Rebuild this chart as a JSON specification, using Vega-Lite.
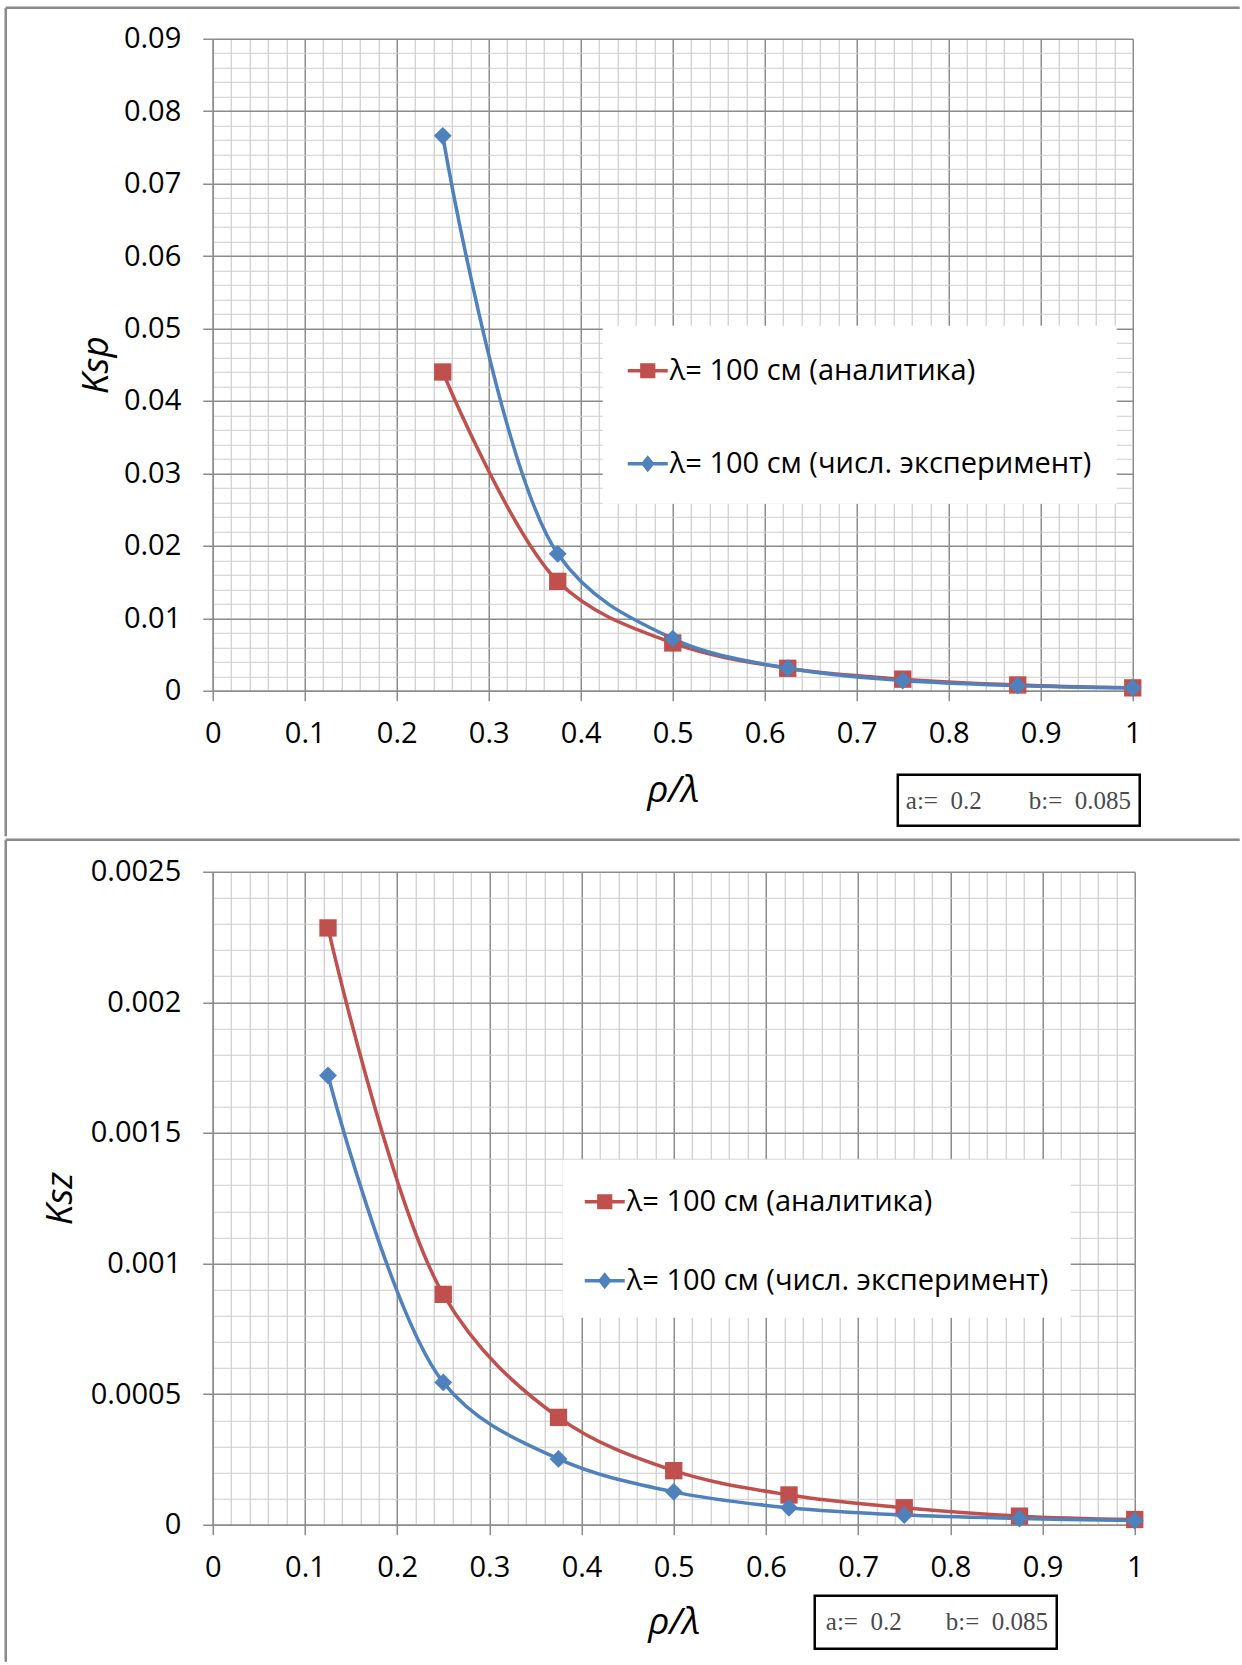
{
  "$schema": "https://vega.github.io/schema/vega-lite/v6.json",
  "background": "white",
  "padding": {"left": 3.75, "top": 5.75, "right": 0, "bottom": 0},
  "autosize": {"type": "pad"},
  "spacing": 0,
  "config": {
    "view": {"stroke": null},
    "font": "Open Sans"
  },
  "datasets": {
    "ksp": [
      {"x": 0.25, "K": 0.0440, "s": "λ= 100 см (аналитика)"},
      {"x": 0.375, "K": 0.0151, "s": "λ= 100 см (аналитика)"},
      {"x": 0.5, "K": 0.0066, "s": "λ= 100 см (аналитика)"},
      {"x": 0.625, "K": 0.0031, "s": "λ= 100 см (аналитика)"},
      {"x": 0.75, "K": 0.0016, "s": "λ= 100 см (аналитика)"},
      {"x": 0.875, "K": 0.0008, "s": "λ= 100 см (аналитика)"},
      {"x": 1.0, "K": 0.0004, "s": "λ= 100 см (аналитика)"},
      {"x": 0.25, "K": 0.0766, "s": "λ= 100 см (числ. эксперимент)"},
      {"x": 0.375, "K": 0.0189, "s": "λ= 100 см (числ. эксперимент)"},
      {"x": 0.5, "K": 0.0072, "s": "λ= 100 см (числ. эксперимент)"},
      {"x": 0.625, "K": 0.0031, "s": "λ= 100 см (числ. эксперимент)"},
      {"x": 0.75, "K": 0.0014, "s": "λ= 100 см (числ. эксперимент)"},
      {"x": 0.875, "K": 0.0007, "s": "λ= 100 см (числ. эксперимент)"},
      {"x": 1.0, "K": 0.0004, "s": "λ= 100 см (числ. эксперимент)"}
    ],
    "ksz": [
      {"x": 0.125, "K": 0.002285, "s": "λ= 100 см (аналитика)"},
      {"x": 0.25, "K": 0.000882, "s": "λ= 100 см (аналитика)"},
      {"x": 0.375, "K": 0.000411, "s": "λ= 100 см (аналитика)"},
      {"x": 0.5, "K": 0.000207, "s": "λ= 100 см (аналитика)"},
      {"x": 0.625, "K": 0.000114, "s": "λ= 100 см (аналитика)"},
      {"x": 0.75, "K": 0.000065, "s": "λ= 100 см (аналитика)"},
      {"x": 0.875, "K": 0.000033, "s": "λ= 100 см (аналитика)"},
      {"x": 1.0, "K": 0.00002, "s": "λ= 100 см (аналитика)"},
      {"x": 0.125, "K": 0.00172, "s": "λ= 100 см (числ. эксперимент)"},
      {"x": 0.25, "K": 0.000545, "s": "λ= 100 см (числ. эксперимент)"},
      {"x": 0.375, "K": 0.000252, "s": "λ= 100 см (числ. эксперимент)"},
      {"x": 0.5, "K": 0.000126, "s": "λ= 100 см (числ. эксперимент)"},
      {"x": 0.625, "K": 0.000065, "s": "λ= 100 см (числ. эксперимент)"},
      {"x": 0.75, "K": 0.000037, "s": "λ= 100 см (числ. эксперимент)"},
      {"x": 0.875, "K": 0.000024, "s": "λ= 100 см (числ. эксперимент)"},
      {"x": 1.0, "K": 0.000016, "s": "λ= 100 см (числ. эксперимент)"}
    ],
    "ann": [{"a": "a:=\u00a0 0.2", "b": "b:=\u00a0 0.085"}]
  },
  "vconcat": [
    {
      "width": 920,
      "height": 652,
      "resolve": {"legend": {"color": "independent"}},
      "layer": [
        {
          "data": {"name": "ksp"},
          "mark": {"type": "line", "interpolate": "catmull-rom", "strokeWidth": 3.5},
          "encoding": {
            "x": {
              "field": "x", "type": "quantitative",
              "scale": {"domain": [0, 1], "nice": false, "zero": false},
              "axis": {
                "values": [0,0.02,0.04,0.06,0.08,0.1,0.12,0.14,0.16,0.18,0.2,0.22,0.24,0.26,0.28,0.3,0.32,0.34,0.36,0.38,0.4,0.42,0.44,0.46,0.48,0.5,0.52,0.54,0.56,0.58,0.6,0.62,0.64,0.66,0.68,0.7,0.72,0.74,0.76,0.78,0.8,0.82,0.84,0.86,0.88,0.9,0.92,0.94,0.96,0.98,1],
                "tickCount": 1000,
                "labelExpr": "abs(datum.value*10 - round(datum.value*10)) < 1e-6 ? format(datum.value, '~g') : ''",
                "labelFont": "Open Sans", "labelFontSize": 29, "labelColor": "#000000", "labelPadding": 19,
                "labelFlush": false, "labelOverlap": false, "labelBound": false,
                "tickSize": 10, "tickColor": "#8c8c8c", "tickWidth": 1.5,
                "tickOpacity": {"condition": {"test": "abs(datum.value*10 - round(datum.value*10)) < 1e-6", "value": 1}, "value": 0},
                "grid": true,
                "gridColor": {"condition": {"test": "abs(datum.value*10 - round(datum.value*10)) < 1e-6", "value": "#8c8c8c"}, "value": "#cdcdcd"},
                "gridWidth": {"condition": {"test": "abs(datum.value*10 - round(datum.value*10)) < 1e-6", "value": 1.5}, "value": 1.2},
                "domainColor": "#8c8c8c", "domainWidth": 1.5,
                "title": "ρ/λ", "titleFont": "Open Sans", "titleFontSize": 37, "titleFontStyle": "italic", "titleFontWeight": "normal",
                "titleColor": "#000000", "titleY": 100, "titleBaseline": "middle"
              }
            },
            "y": {
              "field": "K", "type": "quantitative",
              "scale": {"domain": [0, 0.09], "nice": false, "zero": false},
              "axis": {
                "values": [0,0.002,0.004,0.006,0.008,0.01,0.012,0.014,0.016,0.018,0.02,0.022,0.024,0.026,0.028,0.03,0.032,0.034,0.036,0.038,0.04,0.042,0.044,0.046,0.048,0.05,0.052,0.054,0.056,0.058,0.06,0.062,0.064,0.066,0.068,0.07,0.072,0.074,0.076,0.078,0.08,0.082,0.084,0.086,0.088,0.09],
                "tickCount": 1000,
                "labelExpr": "abs(datum.value*100 - round(datum.value*100)) < 1e-6 ? format(datum.value, '~g') : ''",
                "labelFont": "Open Sans", "labelFontSize": 29, "labelColor": "#000000", "labelPadding": 22,
                "labelFlush": false, "labelOverlap": false, "labelBound": false,
                "tickSize": 10, "tickColor": "#8c8c8c", "tickWidth": 1.5,
                "tickOpacity": {"condition": {"test": "abs(datum.value*100 - round(datum.value*100)) < 1e-6", "value": 1}, "value": 0},
                "grid": true,
                "gridColor": {"condition": {"test": "abs(datum.value*100 - round(datum.value*100)) < 1e-6", "value": "#8c8c8c"}, "value": "#cdcdcd"},
                "gridWidth": {"condition": {"test": "abs(datum.value*100 - round(datum.value*100)) < 1e-6", "value": 1.5}, "value": 1.2},
                "domainColor": "#8c8c8c", "domainWidth": 1.5,
                "title": "Ksp", "titleFont": "Open Sans", "titleFontSize": 37, "titleFontStyle": "italic", "titleFontWeight": "normal",
                "titleColor": "#000000", "titleX": -116, "titleBaseline": "middle"
              }
            },
            "color": {
              "field": "s", "type": "nominal",
              "scale": {"domain": ["λ= 100 см (аналитика)", "λ= 100 см (числ. эксперимент)"], "range": ["#c0504d", "#4f81bd"]},
              "legend": null
            }
          }
        },
        {
          "data": {"name": "ksp"},
          "mark": {"type": "point", "filled": true, "opacity": 1, "strokeWidth": 0},
          "encoding": {
            "x": {"field": "x", "type": "quantitative"},
            "y": {"field": "K", "type": "quantitative"},
            "shape": {
              "field": "s", "type": "nominal",
              "scale": {"domain": ["λ= 100 см (аналитика)", "λ= 100 см (числ. эксперимент)"], "range": ["square", "diamond"]},
              "legend": null
            },
            "size": {
              "field": "s", "type": "nominal",
              "scale": {"domain": ["λ= 100 см (аналитика)", "λ= 100 см (числ. эксперимент)"], "range": [300, 320]},
              "legend": null
            },
            "color": {
              "field": "s", "type": "nominal",
              "scale": {"domain": ["λ= 100 см (аналитика)", "λ= 100 см (числ. эксперимент)"], "range": ["#c0504d", "#4f81bd"]},
              "legend": {
                "title": null, "orient": "none", "legendX": 390, "legendY": 287,
                "fillColor": "white", "padding": 25, "rowPadding": 58,
                "symbolSize": 1600, "symbolStrokeWidth": 0, "labelOffset": 2,
                "symbolType": {"expr": "indexof(datum.value, 'аналитика') >= 0 ? 'M-1,-0.085L1,-0.085L1,0.085L-1,0.085Z M-0.38,-0.38L0.38,-0.38L0.38,0.38L-0.38,0.38Z' : 'M-1,-0.085L1,-0.085L1,0.085L-1,0.085Z M0,-0.42L0.34,0L0,0.42L-0.34,0Z'"},
                "labelFont": "Open Sans", "labelFontSize": 29, "labelColor": "#000000", "labelLimit": 700
              }
            }
          }
        },
        {
          "data": {"name": "ann"},
          "mark": {"type": "rect", "fill": "white", "stroke": "#000000", "strokeWidth": 2.5, "clip": false},
          "encoding": {
            "x": {"datum": 0.7446, "type": "quantitative"},
            "x2": {"datum": 1.0076},
            "y": {"datum": -0.011595, "type": "quantitative"},
            "y2": {"datum": -0.018635}
          }
        },
        {
          "data": {"name": "ann"},
          "mark": {"type": "text", "align": "left", "baseline": "middle", "font": "Liberation Serif", "fontSize": 25, "color": "#4a4a4a", "clip": false},
          "encoding": {
            "x": {"datum": 0.7533, "type": "quantitative"},
            "y": {"datum": -0.015184, "type": "quantitative"},
            "text": {"field": "a"}
          }
        },
        {
          "data": {"name": "ann"},
          "mark": {"type": "text", "align": "left", "baseline": "middle", "font": "Liberation Serif", "fontSize": 25, "color": "#4a4a4a", "clip": false},
          "encoding": {
            "x": {"datum": 0.887, "type": "quantitative"},
            "y": {"datum": -0.015184, "type": "quantitative"},
            "text": {"field": "b"}
          }
        },
        {
          "data": {"name": "ann"},
          "mark": {"type": "rule", "color": "#8a8a8a", "strokeWidth": 2.5, "clip": false},
          "encoding": {
            "x": {"datum": -0.225, "type": "quantitative"},
            "x2": {"datum": 1.1163},
            "y": {"datum": 0.094279, "type": "quantitative"}
          }
        },
        {
          "data": {"name": "ann"},
          "mark": {"type": "rule", "color": "#8a8a8a", "strokeWidth": 2.5, "clip": false},
          "encoding": {
            "x": {"datum": -0.225, "type": "quantitative"},
            "y": {"datum": 0.094279, "type": "quantitative"},
            "y2": {"datum": -0.020085}
          }
        }
      ]
    },
    {
      "width": 922,
      "height": 653,
      "resolve": {"legend": {"color": "independent"}},
      "layer": [
        {
          "data": {"name": "ksz"},
          "mark": {"type": "line", "interpolate": "catmull-rom", "strokeWidth": 3.5},
          "encoding": {
            "x": {
              "field": "x", "type": "quantitative",
              "scale": {"domain": [0, 1], "nice": false, "zero": false},
              "axis": {
                "values": [0,0.02,0.04,0.06,0.08,0.1,0.12,0.14,0.16,0.18,0.2,0.22,0.24,0.26,0.28,0.3,0.32,0.34,0.36,0.38,0.4,0.42,0.44,0.46,0.48,0.5,0.52,0.54,0.56,0.58,0.6,0.62,0.64,0.66,0.68,0.7,0.72,0.74,0.76,0.78,0.8,0.82,0.84,0.86,0.88,0.9,0.92,0.94,0.96,0.98,1],
                "tickCount": 1000,
                "labelExpr": "abs(datum.value*10 - round(datum.value*10)) < 1e-6 ? format(datum.value, '~g') : ''",
                "labelFont": "Open Sans", "labelFontSize": 29, "labelColor": "#000000", "labelPadding": 19,
                "labelFlush": false, "labelOverlap": false, "labelBound": false,
                "tickSize": 10, "tickColor": "#8c8c8c", "tickWidth": 1.5,
                "tickOpacity": {"condition": {"test": "abs(datum.value*10 - round(datum.value*10)) < 1e-6", "value": 1}, "value": 0},
                "grid": true,
                "gridColor": {"condition": {"test": "abs(datum.value*10 - round(datum.value*10)) < 1e-6", "value": "#8c8c8c"}, "value": "#cdcdcd"},
                "gridWidth": {"condition": {"test": "abs(datum.value*10 - round(datum.value*10)) < 1e-6", "value": 1.5}, "value": 1.2},
                "domainColor": "#8c8c8c", "domainWidth": 1.5,
                "title": "ρ/λ", "titleFont": "Open Sans", "titleFontSize": 37, "titleFontStyle": "italic", "titleFontWeight": "normal",
                "titleColor": "#000000", "titleY": 98, "titleBaseline": "middle"
              }
            },
            "y": {
              "field": "K", "type": "quantitative",
              "scale": {"domain": [0, 0.0025], "nice": false, "zero": false},
              "axis": {
                "values": [0,0.0001,0.0002,0.0003,0.0004,0.0005,0.0006,0.0007,0.0008,0.0009,0.001,0.0011,0.0012,0.0013,0.0014,0.0015,0.0016,0.0017,0.0018,0.0019,0.002,0.0021,0.0022,0.0023,0.0024,0.0025],
                "tickCount": 1000,
                "labelExpr": "abs(datum.value*2000 - round(datum.value*2000)) < 1e-6 ? format(datum.value, '~g') : ''",
                "labelFont": "Open Sans", "labelFontSize": 29, "labelColor": "#000000", "labelPadding": 22,
                "labelFlush": false, "labelOverlap": false, "labelBound": false,
                "tickSize": 10, "tickColor": "#8c8c8c", "tickWidth": 1.5,
                "tickOpacity": {"condition": {"test": "abs(datum.value*2000 - round(datum.value*2000)) < 1e-6", "value": 1}, "value": 0},
                "grid": true,
                "gridColor": {"condition": {"test": "abs(datum.value*2000 - round(datum.value*2000)) < 1e-6", "value": "#8c8c8c"}, "value": "#cdcdcd"},
                "gridWidth": {"condition": {"test": "abs(datum.value*2000 - round(datum.value*2000)) < 1e-6", "value": 1.5}, "value": 1.2},
                "domainColor": "#8c8c8c", "domainWidth": 1.5,
                "title": "Ksz", "titleFont": "Open Sans", "titleFontSize": 37, "titleFontStyle": "italic", "titleFontWeight": "normal",
                "titleColor": "#000000", "titleX": -152, "titleBaseline": "middle"
              }
            },
            "color": {
              "field": "s", "type": "nominal",
              "scale": {"domain": ["λ= 100 см (аналитика)", "λ= 100 см (числ. эксперимент)"], "range": ["#c0504d", "#4f81bd"]},
              "legend": null
            }
          }
        },
        {
          "data": {"name": "ksz"},
          "mark": {"type": "point", "filled": true, "opacity": 1, "strokeWidth": 0},
          "encoding": {
            "x": {"field": "x", "type": "quantitative"},
            "y": {"field": "K", "type": "quantitative"},
            "shape": {
              "field": "s", "type": "nominal",
              "scale": {"domain": ["λ= 100 см (аналитика)", "λ= 100 см (числ. эксперимент)"], "range": ["square", "diamond"]},
              "legend": null
            },
            "size": {
              "field": "s", "type": "nominal",
              "scale": {"domain": ["λ= 100 см (аналитика)", "λ= 100 см (числ. эксперимент)"], "range": [300, 320]},
              "legend": null
            },
            "color": {
              "field": "s", "type": "nominal",
              "scale": {"domain": ["λ= 100 см (аналитика)", "λ= 100 см (числ. эксперимент)"], "range": ["#c0504d", "#4f81bd"]},
              "legend": {
                "title": null, "orient": "none", "legendX": 350, "legendY": 288,
                "fillColor": "white", "padding": 22, "rowPadding": 44,
                "symbolSize": 1600, "symbolStrokeWidth": 0, "labelOffset": 2,
                "symbolType": {"expr": "indexof(datum.value, 'аналитика') >= 0 ? 'M-1,-0.085L1,-0.085L1,0.085L-1,0.085Z M-0.38,-0.38L0.38,-0.38L0.38,0.38L-0.38,0.38Z' : 'M-1,-0.085L1,-0.085L1,0.085L-1,0.085Z M0,-0.42L0.34,0L0,0.42L-0.34,0Z'"},
                "labelFont": "Open Sans", "labelFontSize": 29, "labelColor": "#000000", "labelLimit": 700
              }
            }
          }
        },
        {
          "data": {"name": "ann"},
          "mark": {"type": "rect", "fill": "white", "stroke": "#000000", "strokeWidth": 2.5, "clip": false},
          "encoding": {
            "x": {"datum": 0.6529, "type": "quantitative"},
            "x2": {"datum": 0.9154},
            "y": {"datum": -0.0002718, "type": "quantitative"},
            "y2": {"datum": -0.0004747}
          }
        },
        {
          "data": {"name": "ann"},
          "mark": {"type": "text", "align": "left", "baseline": "middle", "font": "Liberation Serif", "fontSize": 25, "color": "#4a4a4a", "clip": false},
          "encoding": {
            "x": {"datum": 0.6649, "type": "quantitative"},
            "y": {"datum": -0.0003714, "type": "quantitative"},
            "text": {"field": "a"}
          }
        },
        {
          "data": {"name": "ann"},
          "mark": {"type": "text", "align": "left", "baseline": "middle", "font": "Liberation Serif", "fontSize": 25, "color": "#4a4a4a", "clip": false},
          "encoding": {
            "x": {"datum": 0.795, "type": "quantitative"},
            "y": {"datum": -0.0003714, "type": "quantitative"},
            "text": {"field": "b"}
          }
        },
        {
          "data": {"name": "ann"},
          "mark": {"type": "rule", "color": "#8a8a8a", "strokeWidth": 2.5, "clip": false},
          "encoding": {
            "x": {"datum": -0.22451, "type": "quantitative"},
            "x2": {"datum": 1.11388},
            "y": {"datum": 0.0026225, "type": "quantitative"}
          }
        },
        {
          "data": {"name": "ann"},
          "mark": {"type": "rule", "color": "#8a8a8a", "strokeWidth": 2.5, "clip": false},
          "encoding": {
            "x": {"datum": -0.22451, "type": "quantitative"},
            "y": {"datum": 0.0026225, "type": "quantitative"},
            "y2": {"datum": -0.0005245}
          }
        }
      ]
    }
  ]
}
